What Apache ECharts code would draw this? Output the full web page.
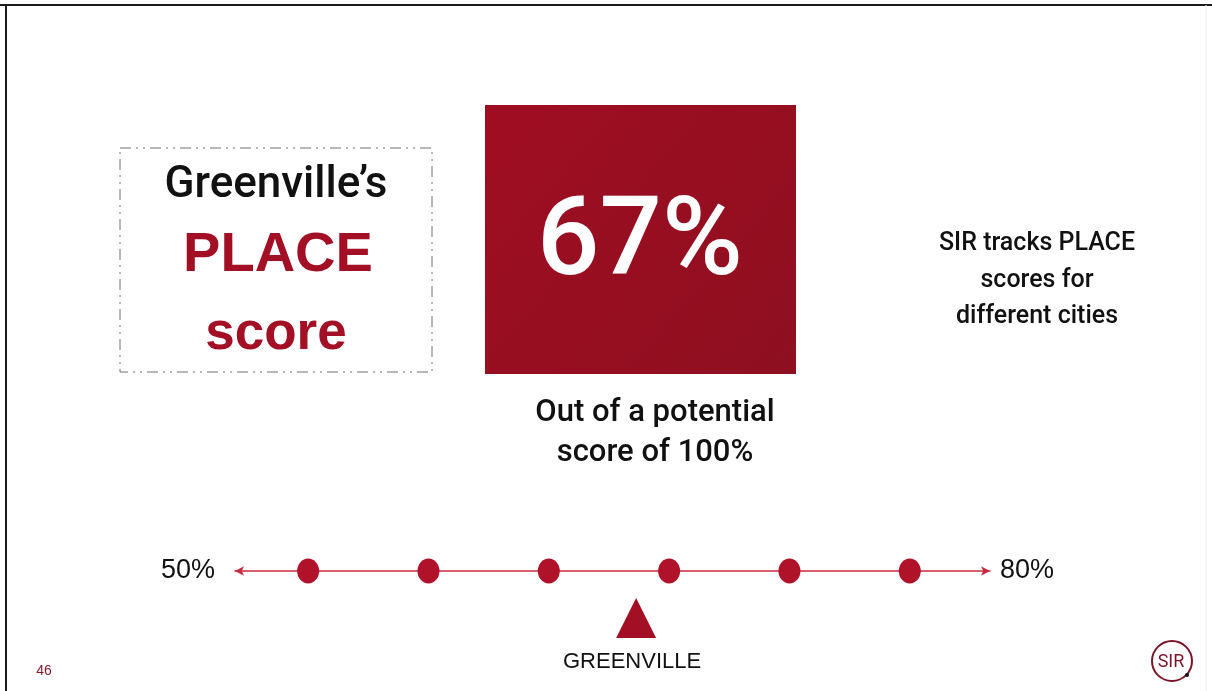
<!DOCTYPE html>
<html>
<head>
<meta charset="utf-8">
<title>Greenville's PLACE score</title>
<script src="https://cdn.jsdelivr.net/npm/echarts@6/dist/echarts.min.js"></script>
<style>
  html, body { margin: 0; padding: 0; background: #ffffff; }
  #chart { width: 1212px; height: 691px; }
</style>
</head>
<body>
<div id="chart"></div>
<script>
// PLACE score scale: Greenville against the other tracked cities
const cityName = 'GREENVILLE';
const greenvilleScore = 67;                          // percent
const otherCityScores = [53.1, 58.2, 63.3, 68.4, 73.5, 78.6];
const scaleLabels = ['50%', '80%'];
const scaleRange = [50, 82];
const pageNumber = '46';

const RED = '#a30f24';
const DOT_RED = '#b0122a';
const LINE_RED = '#c8283c';
const LOGO_RED = '#7d1428';
const FONT = 'Liberation Sans, Arial, sans-serif';
const FONT_M = 'Roboto, Liberation Sans, Arial, sans-serif';

const chart = echarts.init(document.getElementById('chart'), null, { renderer: 'canvas' });

function centred(x, y, text, font, fill) {
  return { type: 'text', x: x, y: y, style: { text: text, font: font, fill: fill, align: 'center', verticalAlign: 'middle' } };
}

chart.setOption({
  backgroundColor: '#ffffff',
  animation: false,
  grid: { left: 235, right: 222, top: 561, height: 20 },
  xAxis: [
    {
      type: 'value', min: scaleRange[0], max: scaleRange[1],
      position: 'bottom', offset: -10,
      axisLine: {
        show: true, symbol: ['arrow', 'arrow'], symbolSize: [7, 9],
        lineStyle: { color: LINE_RED, width: 1.5 }
      },
      axisTick: { show: false }, axisLabel: { show: false }, splitLine: { show: false },
      name: scaleLabels[1], nameLocation: 'end', nameGap: 10,
      nameTextStyle: { fontFamily: FONT, fontSize: 27, color: '#111111', verticalAlign: 'middle' }
    },
    {
      type: 'value', min: scaleRange[0], max: scaleRange[1],
      position: 'bottom', offset: -10,
      axisLine: { show: false }, axisTick: { show: false }, axisLabel: { show: false }, splitLine: { show: false },
      name: scaleLabels[0], nameLocation: 'start', nameGap: 20,
      nameTextStyle: { fontFamily: FONT, fontSize: 27, color: '#111111', verticalAlign: 'middle', padding: [10, 0, 0, 0] }
    }
  ],
  yAxis: { type: 'value', min: -1, max: 1, show: false },
  series: [
    {
      type: 'scatter',
      symbol: 'circle',
      symbolSize: [22, 25],
      itemStyle: { color: DOT_RED, opacity: 1 },
      emphasis: { disabled: true },
      data: otherCityScores.map(v => [v, 0]),
      z: 3
    },
    {
      type: 'scatter',
      symbol: 'triangle',
      symbolSize: [40, 40],
      symbolOffset: [0, 47],
      itemStyle: { color: RED, opacity: 1 },
      emphasis: { disabled: true },
      label: {
        show: true, position: 'bottom', distance: 13,
        formatter: cityName,
        fontFamily: FONT, fontSize: 22, color: '#111111', offset: [-4, 0]
      },
      data: [[greenvilleScore, 0]],
      z: 3
    }
  ],
  graphic: [
    // slide frame
    { type: 'line', shape: { x1: 0, y1: 5, x2: 1212, y2: 5 }, style: { stroke: '#1a1a1a', lineWidth: 2 } },
    { type: 'line', shape: { x1: 6, y1: 5, x2: 6, y2: 691 }, style: { stroke: '#1a1a1a', lineWidth: 2 } },
    { type: 'line', shape: { x1: 1206, y1: 5, x2: 1206, y2: 691 }, style: { stroke: '#f0f0f0', lineWidth: 1 } },

    // title box
    { type: 'rect', shape: { x: 120, y: 148, width: 312, height: 224 },
      style: { fill: 'none', stroke: '#707070', lineWidth: 1, lineDash: [11, 5, 2, 5, 2, 5] } },
    centred(276, 186, "Greenville\u2019s", '500 44px ' + FONT_M, '#111111'),
    centred(278, 256, 'PLACE', 'bold 56px ' + FONT, RED),
    centred(276, 334, 'score', 'bold 53px ' + FONT, RED),

    // score tile
    { type: 'rect', shape: { x: 485, y: 105, width: 311, height: 269 },
      style: { fill: new echarts.graphic.LinearGradient(0, 0, 1, 1, [
        { offset: 0, color: '#a00d22' }, { offset: 1, color: '#8e1020' }]) } },
    centred(640, 246, greenvilleScore + '%', '500 110px ' + FONT_M, '#ffffff'),

    centred(655, 413, 'Out of a potential', '500 31px ' + FONT_M, '#111111'),
    centred(655, 453, 'score of 100%', '500 31px ' + FONT_M, '#111111'),

    centred(1037, 244, 'SIR tracks PLACE', '500 25px ' + FONT_M, '#111111'),
    centred(1037, 281, 'scores for', '500 25px ' + FONT_M, '#111111'),
    centred(1037, 317, 'different cities', '500 25px ' + FONT_M, '#111111'),

    // footer
    centred(44, 671, pageNumber, '14px ' + FONT, '#8a1a2a'),
    { type: 'circle', shape: { cx: 1172, cy: 661, r: 20 }, style: { fill: 'none', stroke: LOGO_RED, lineWidth: 2 } },
    centred(1171, 662, 'SIR', '18px ' + FONT_M, LOGO_RED),
    { type: 'circle', shape: { cx: 1187, cy: 675, r: 2 }, style: { fill: '#111111' } }
  ]
});
</script>
</body>
</html>
